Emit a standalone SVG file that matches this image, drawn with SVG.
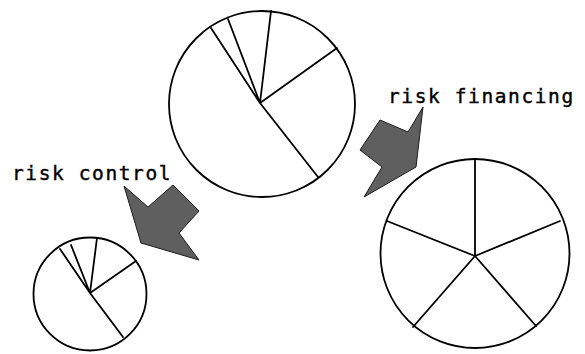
<svg xmlns="http://www.w3.org/2000/svg" width="585" height="354" viewBox="0 0 585 354">
<style>
.c{fill:#fff;stroke:#000;stroke-width:1.8}
.s{stroke:#000;stroke-width:1.8;fill:none;stroke-linecap:round}
.a{fill:#5f5f5f;stroke:#1a1a1a;stroke-width:1;stroke-linejoin:miter}
.t{font-family:"DejaVu Sans Mono",monospace;font-size:19.5px;fill:#000;stroke:#000;stroke-width:0.4;letter-spacing:1.6px}
</style>
<rect width="585" height="354" fill="#fff"/>
<g id="pie-top">
<circle class="c" cx="262" cy="104" r="93"/>
<path class="s" d="M260 103L211 28M260 103L228 19M260 103L271 11M260 103L337 48M260 103L318 177"/>
</g>
<g id="pie-right">
<circle class="c" cx="475" cy="253.5" r="94.5"/>
<path class="s" d="M475 256L475 159M475 256L560 221M475 256L536 326M475 256L413 327M475 256L387 221"/>
</g>
<g id="pie-small">
<circle class="c" cx="90" cy="294" r="56.5"/>
<path class="s" d="M90 293L60 249M90 293L71 245M90 293L97 238M90 293L136 261M90 293L123 337"/>
</g>
<g id="connectors">
<polygon id="arrow-control" class="a" points="124,186 148,207 173,185 199,211 179,233 199,260 141,243"/>
<polygon id="arrow-financing" class="a" points="423,107 408,132 380,120 360,150 382,167 364,197 416,167"/>
</g>
<g id="label-control"><text class="t" x="12" y="180">risk control</text></g>
<g id="label-financing"><text class="t" x="388" y="103">risk financing</text></g>
</svg>
